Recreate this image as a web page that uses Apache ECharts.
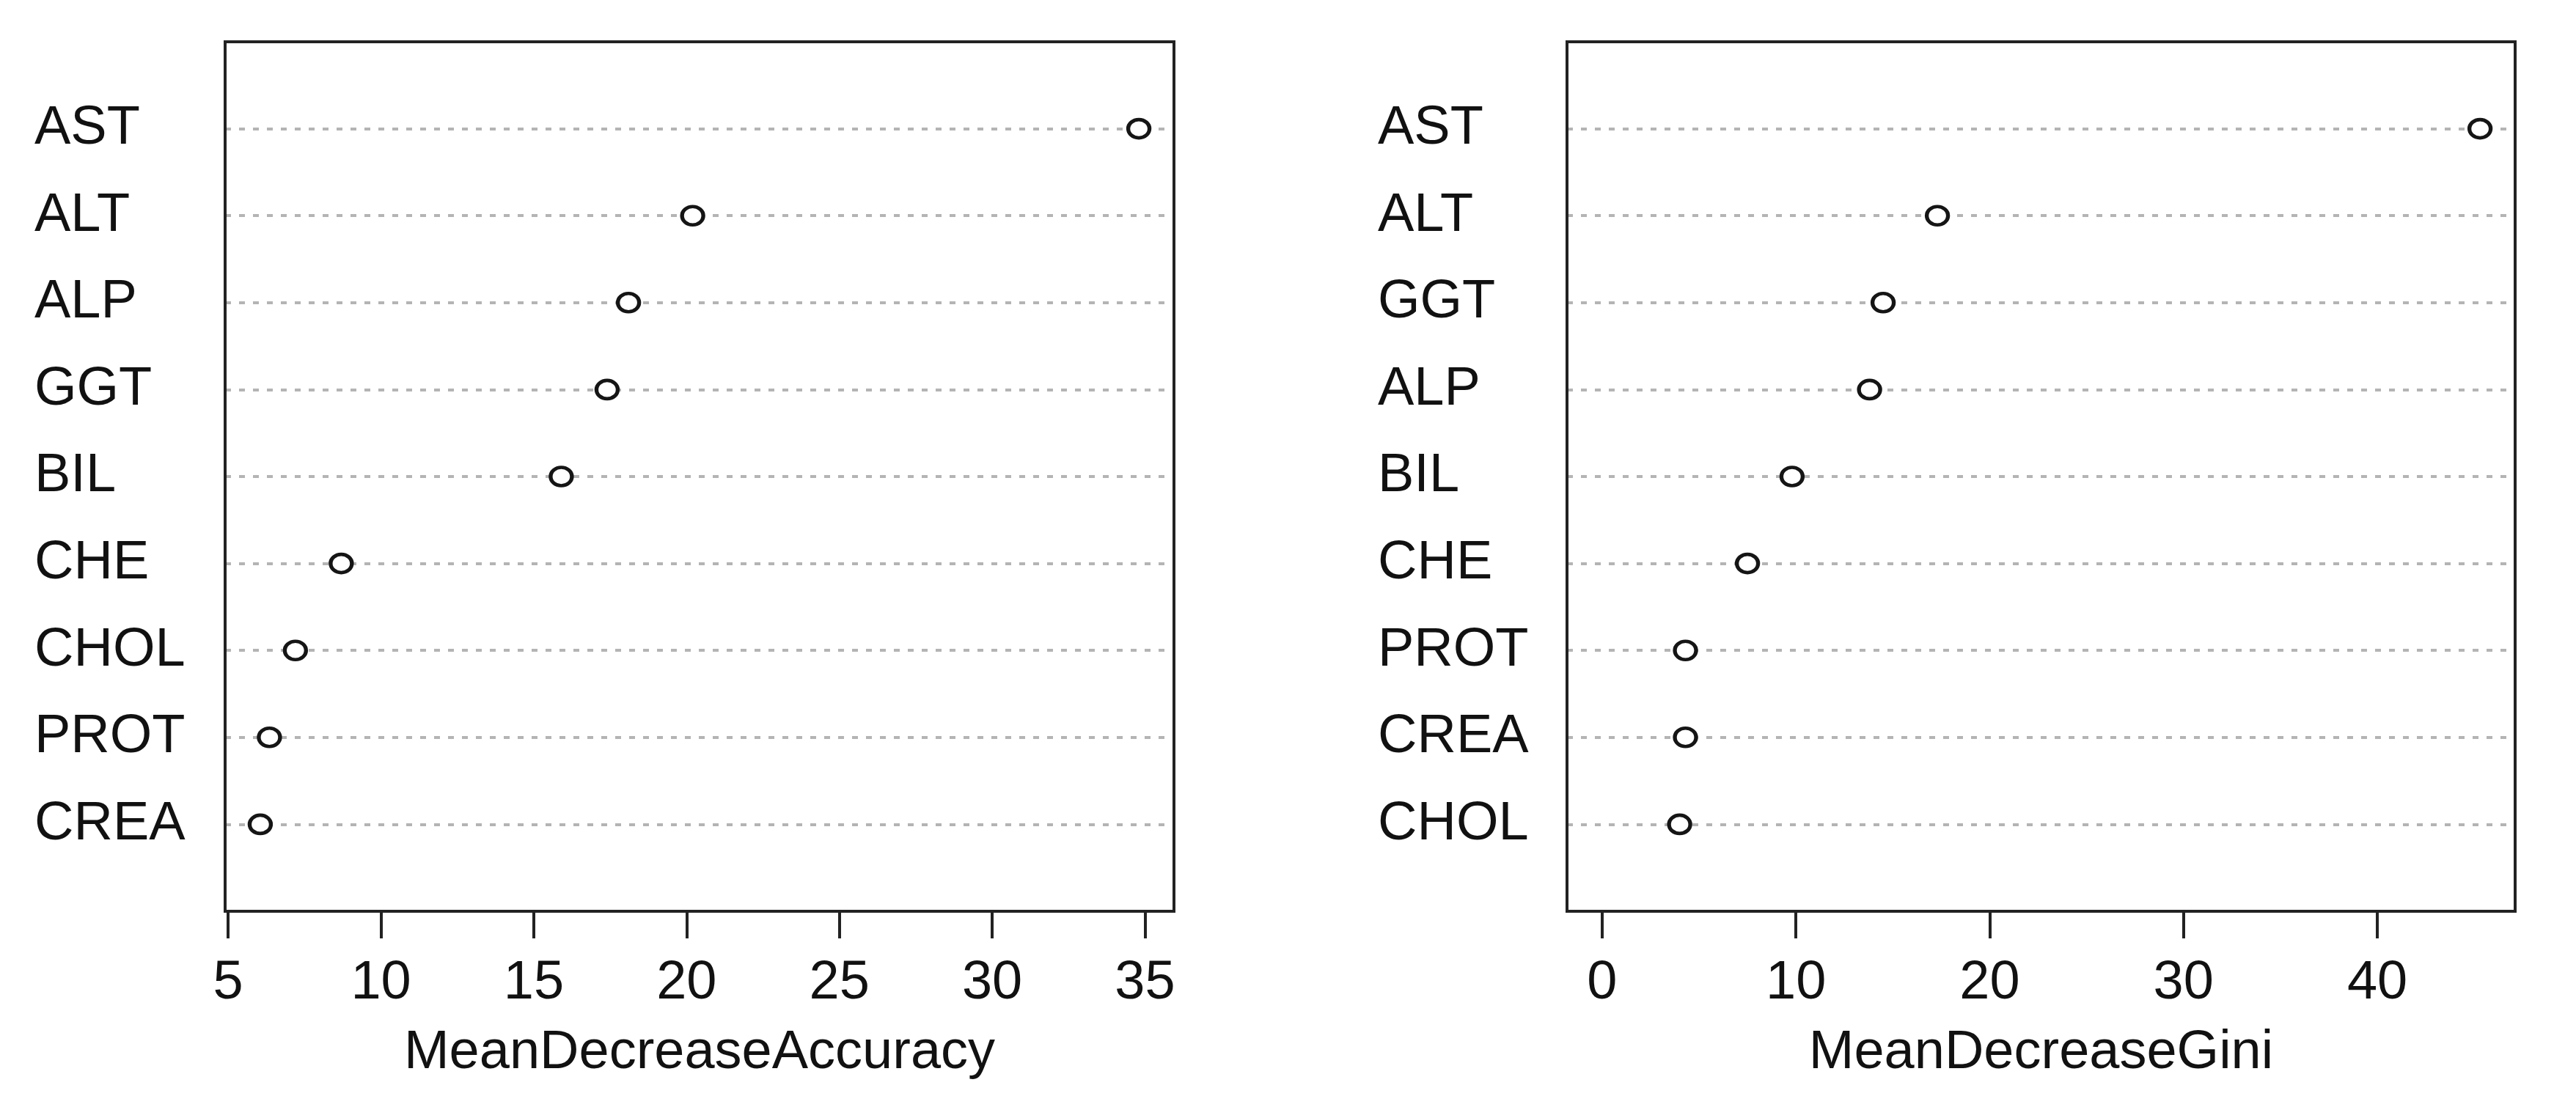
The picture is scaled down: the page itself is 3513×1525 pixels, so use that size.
<!DOCTYPE html>
<html>
<head>
<meta charset="utf-8">
<script src="https://cdn.jsdelivr.net/npm/echarts@6/dist/echarts.min.js"></script>
<style>
html,body{margin:0;padding:0;background:#ffffff;}
#chart{width:3513px;height:1525px;}
</style>
</head>
<body>
<div id="chart"></div>
<script>
// Left panel: MeanDecreaseAccuracy (top to bottom)
const accLabels = ['AST','ALT','ALP','GGT','BIL','CHE','CHOL','PROT','CREA'];
const accValues = [34.8, 20.2, 18.1, 17.4, 15.9, 8.7, 7.2, 6.35, 6.05];
const accTicks = [5, 10, 15, 20, 25, 30, 35];
// Right panel: MeanDecreaseGini (top to bottom)
const giniLabels = ['AST','ALT','GGT','ALP','BIL','CHE','PROT','CREA','CHOL'];
const giniValues = [45.3, 17.3, 14.5, 13.8, 9.8, 7.5, 4.3, 4.3, 4.0];
const giniTicks = [0, 10, 20, 30, 40];

const FONT = 'Liberation Sans, Arial, sans-serif';
const TXT = '#111111';

function yCats(labels){
  // bottom-to-top, with empty padding slots at each end (R dotchart ylim 0..n+1)
  return [' '].concat(labels.slice().reverse()).concat(['  ']);
}
function rRange(lo, hi){
  const r = hi - lo;
  return [lo - 0.04 * r, hi + 0.04 * r];
}
const accRange = rRange(Math.min(...accValues), Math.max(...accValues));
const giniRange = rRange(0, Math.max(...giniValues));

function xAxisCfg(idx, range, ticks, name){
  return {
    type: 'value', gridIndex: idx, min: range[0], max: range[1],
    axisLine: {show: false},
    splitLine: {show: false},
    axisTick: {show: true, customValues: ticks, length: 37, lineStyle: {color: '#222', width: 4}},
    axisLabel: {show: true, customValues: ticks, margin: 99, verticalAlign: 'middle',
      fontSize: 74, fontFamily: FONT, color: TXT},
    name: name, nameLocation: 'middle', nameGap: 194,
    nameTextStyle: {fontSize: 74, fontFamily: FONT, color: TXT, verticalAlign: 'middle'}
  };
}
function yAxisCfg(idx, labels, margin){
  return {
    type: 'category', gridIndex: idx, data: yCats(labels), boundaryGap: false,
    axisLine: {show: false}, axisTick: {show: false},
    axisLabel: {show: true, interval: 0, margin: margin, align: 'left',
      fontSize: 74, fontFamily: FONT, color: TXT},
    splitLine: {show: true, interval: 0, lineStyle: {color: '#b4b4b4', width: 4, type: [8, 11]}}
  };
}
function seriesCfg(idx, labels, values){
  return {
    type: 'scatter', xAxisIndex: idx, yAxisIndex: idx,
    data: labels.map((l, i) => [values[i], l]),
    symbol: 'circle', symbolSize: [29, 25],
    itemStyle: {color: '#ffffff', borderColor: '#151515', borderWidth: 5, opacity: 1},
    emphasis: {disabled: true}, z: 5
  };
}

const chart = echarts.init(document.getElementById('chart'), null, {renderer: 'canvas'});
chart.setOption({
  backgroundColor: '#ffffff',
  animation: false,
  grid: [
    {left: 307, top: 57, width: 1294, height: 1186, show: true, borderColor: '#222', borderWidth: 4, backgroundColor: 'transparent', z: 10},
    {left: 2137, top: 57, width: 1293, height: 1186, show: true, borderColor: '#222', borderWidth: 4, backgroundColor: 'transparent', z: 10}
  ],
  xAxis: [
    xAxisCfg(0, accRange, accTicks, 'MeanDecreaseAccuracy'),
    xAxisCfg(1, giniRange, giniTicks, 'MeanDecreaseGini')
  ],
  yAxis: [
    yAxisCfg(0, accLabels, 260),
    yAxisCfg(1, giniLabels, 258)
  ],
  series: [
    seriesCfg(0, accLabels, accValues),
    seriesCfg(1, giniLabels, giniValues)
  ]
});
</script>
</body>
</html>
